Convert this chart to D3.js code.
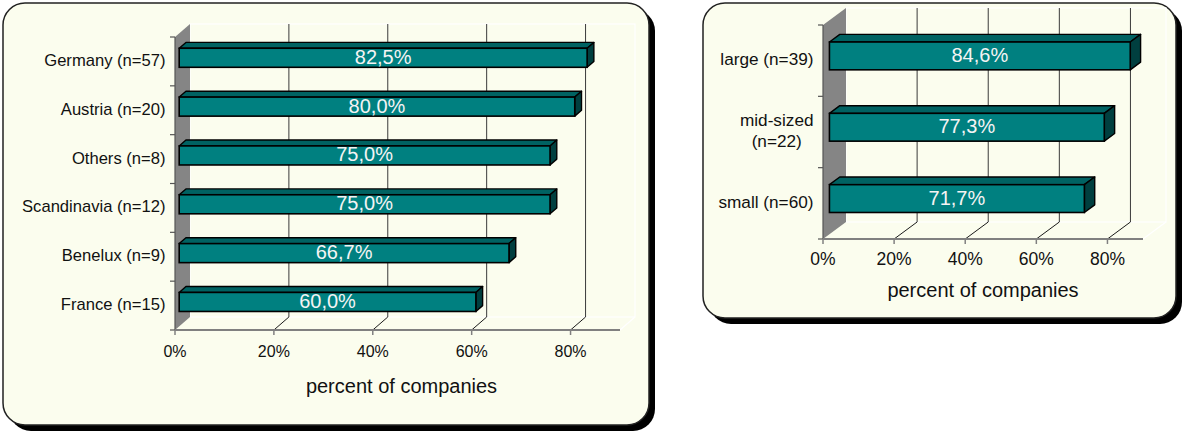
<!DOCTYPE html>
<html>
<head>
<meta charset="utf-8">
<script src="https://cdn.jsdelivr.net/npm/d3@7"></script>
<style>
  body { margin: 0; background: #ffffff; }
  text { font-family: "Liberation Sans", Arial, sans-serif; }
</style>
</head>
<body>
<div id="chart"></div>
<script>
// data
var region_names = ["Germany (n=57)", "Austria (n=20)", "Others (n=8)", "Scandinavia (n=12)", "Benelux (n=9)", "France (n=15)"];
var region_values = [82.5, 80.0, 75.0, 75.0, 66.7, 60.0];
var size_names = ["large (n=39)", "mid-sized\n(n=22)", "small (n=60)"];
var size_values = [84.6, 77.3, 71.7];
var tick_values = [0, 20, 40, 60, 80];
var axis_max = 90;
var axis_title = "percent of companies";

var comma_fmt = d3.formatLocale({decimal: ",", thousands: ".", grouping: [3], currency: ["", ""]}).format(".1f");

var svg = d3.select("#chart").append("svg")
  .attr("width", 1184)
  .attr("height", 431);

class BARPANEL {
  constructor(svg, box, plot, names, values)
  {
    this.svg = svg;
    this.box = box;
    this.plot = plot;
    this.names = names;
    this.values = values;
    this.g = svg.append("g");
    this.x = d3.scaleLinear().domain([0, axis_max]).range([plot.left, plot.right]);
    this.y = d3.scaleBand().domain(names).range([plot.top, plot.bottom]);
  }

  drawBox()
  {
    var b = this.box;
    this.g.append("rect")
      .attr("x", b.x + 6).attr("y", b.y + 6)
      .attr("width", b.w).attr("height", b.h)
      .attr("rx", 22).attr("ry", 22)
      .attr("fill", "#000");
    this.g.append("rect")
      .attr("x", b.x).attr("y", b.y)
      .attr("width", b.w).attr("height", b.h)
      .attr("rx", 22).attr("ry", 22)
      .attr("fill", "#fbfdee")
      .style("stroke", "#222")
      .style("stroke-width", 1.5);
  }

  drawWalls()
  {
    var p = this.plot, dx = p.dx, dy = p.dy, x = this.x;
    var x0 = x(0), x1 = x(axis_max);

    // back wall outline (white)
    this.g.append("rect")
      .attr("x", x0 + dx).attr("y", p.top + dy)
      .attr("width", x1 - x0).attr("height", p.bottom - p.top)
      .attr("fill", "none")
      .style("stroke", "#ffffff")
      .style("stroke-width", 1.2);
    this.g.append("line")
      .attr("x1", x1).attr("y1", p.bottom)
      .attr("x2", x1 + dx).attr("y2", p.bottom + dy)
      .style("stroke", "#ffffff").style("stroke-width", 1.2);

    // gridlines on the back wall
    var grid = tick_values.filter(function(t){ return t > 0; });
    for(var i = 0; i < grid.length; i++)
    {
      var gx = x(grid[i]);
      this.g.append("line")
        .attr("x1", gx + dx).attr("y1", p.top + dy)
        .attr("x2", gx + dx).attr("y2", p.bottom + dy)
        .style("stroke", "#3a3a3a").style("stroke-width", 1);
      this.g.append("line")
        .attr("x1", gx).attr("y1", p.bottom)
        .attr("x2", gx + dx).attr("y2", p.bottom + dy)
        .style("stroke", "#1a1a1a").style("stroke-width", 1);
    }

    // grey side wall
    var wall = [[x0, p.top], [x0 + dx, p.top + dy], [x0 + dx, p.bottom + dy], [x0, p.bottom]];
    this.g.append("polygon")
      .attr("points", wall.map(function(d){ return d.join(","); }).join(" "))
      .attr("fill", "#858585");

    // axes
    this.g.append("line")
      .attr("x1", x0).attr("y1", p.top)
      .attr("x2", x0).attr("y2", p.bottom)
      .style("stroke", "#555").style("stroke-width", 1.2);
    var edges = this.names.map(this.y).concat([p.bottom]);
    for(var k = 0; k < edges.length; k++)
    {
      this.g.append("line")
        .attr("x1", x0 - 5).attr("y1", edges[k])
        .attr("x2", x0).attr("y2", edges[k])
        .style("stroke", "#555").style("stroke-width", 1.2);
    }
    this.g.append("line")
      .attr("x1", x0).attr("y1", p.bottom)
      .attr("x2", x1).attr("y2", p.bottom)
      .style("stroke", "#808080").style("stroke-width", 2);
    for(var t = 0; t < tick_values.length; t++)
    {
      var tx = x(tick_values[t]);
      this.g.append("line")
        .attr("x1", tx).attr("y1", p.bottom)
        .attr("x2", tx).attr("y2", p.bottom + 5)
        .style("stroke", "#808080").style("stroke-width", 1.5);
      this.g.append("text")
        .attr("x", tx)
        .attr("y", p.bottom + p.tickGap)
        .attr("text-anchor", "middle")
        .style("font-size", p.tickSize + "px")
        .style("fill", "#111")
        .text(tick_values[t] + "%");
    }

    this.g.append("text")
      .attr("x", (x0 + x1) / 2 + p.titleShift)
      .attr("y", p.bottom + p.titleGap)
      .attr("text-anchor", "middle")
      .style("font-size", "20px")
      .style("fill", "#111")
      .text(axis_title);
  }

  drawBars()
  {
    var p = this.plot, x = this.x, y = this.y;
    var sx = p.dx * 0.28, sy = p.dy * 0.28;
    var bx = p.dx * 0.45, by = p.dy * 0.45;
    var h = y.bandwidth() * 0.39;

    for(var i = 0; i < this.names.length; i++)
    {
      var yc = y(this.names[i]) + y.bandwidth() / 2 + sy;
      var y0 = yc - h / 2, y1 = yc + h / 2;
      var xa = x(0) + sx, xb = x(this.values[i]) + sx;

      var top = [[xa, y0], [xb, y0], [xb + bx, y0 + by], [xa + bx, y0 + by]];
      var side = [[xb, y0], [xb + bx, y0 + by], [xb + bx, y1 + by], [xb, y1]];

      this.g.append("polygon")
        .attr("points", top.map(function(d){ return d.join(","); }).join(" "))
        .attr("fill", "#006262")
        .style("stroke", "#000").style("stroke-width", 1.4)
        .style("stroke-linejoin", "round");
      this.g.append("polygon")
        .attr("points", side.map(function(d){ return d.join(","); }).join(" "))
        .attr("fill", "#003f3f")
        .style("stroke", "#000").style("stroke-width", 1.4)
        .style("stroke-linejoin", "round");
      this.g.append("rect")
        .attr("x", xa).attr("y", y0)
        .attr("width", xb - xa).attr("height", h)
        .attr("fill", "#008080")
        .style("stroke", "#000").style("stroke-width", 1.6);

      this.g.append("text")
        .attr("x", (xa + xb) / 2)
        .attr("y", yc - 1)
        .attr("text-anchor", "middle")
        .attr("dominant-baseline", "central")
        .style("font-size", "20px")
        .style("fill", "#f4f4f4")
        .text(comma_fmt(this.values[i]) + "%");
    }
  }

  writeNames()
  {
    var y = this.y, lx = this.x(0) - 9.5;
    for(var i = 0; i < this.names.length; i++)
    {
      var lines = this.names[i].split("\n");
      var yc = y(this.names[i]) + y.bandwidth() / 2 - 1.5;
      var txt = this.g.append("text")
        .attr("text-anchor", lines.length > 1 ? "middle" : "end")
        .attr("dominant-baseline", "central")
        .style("font-size", this.plot.nameSize + "px")
        .style("fill", "#111");
      for(var j = 0; j < lines.length; j++)
      {
        txt.append("tspan")
          .attr("x", lx)
          .attr("y", yc + (j - (lines.length - 1) / 2) * 21)
          .text(lines[j]);
      }
      if(lines.length > 1)
      {
        var w = txt.node().getBBox().width;
        txt.selectAll("tspan").attr("x", lx - w / 2);
      }
    }
  }
}

var left_panel = new BARPANEL(svg,
  {x: 3, y: 3, w: 646, h: 422},
  {left: 175, right: 620, top: 37, bottom: 330, dx: 15, dy: -13, tickGap: 27, titleGap: 63, titleShift: 4, nameSize: 16.6, tickSize: 16},
  region_names, region_values);
left_panel.drawBox();
left_panel.drawWalls();
left_panel.drawBars();
left_panel.writeNames();

var right_panel = new BARPANEL(svg,
  {x: 703, y: 3, w: 473, h: 315},
  {left: 823, right: 1143, top: 25, bottom: 239, dx: 23, dy: -17, tickGap: 26, titleGap: 58, titleShift: 0, nameSize: 17.2, tickSize: 17.5},
  size_names, size_values);
right_panel.drawBox();
right_panel.drawWalls();
right_panel.drawBars();
right_panel.writeNames();
</script>
</body>
</html>
